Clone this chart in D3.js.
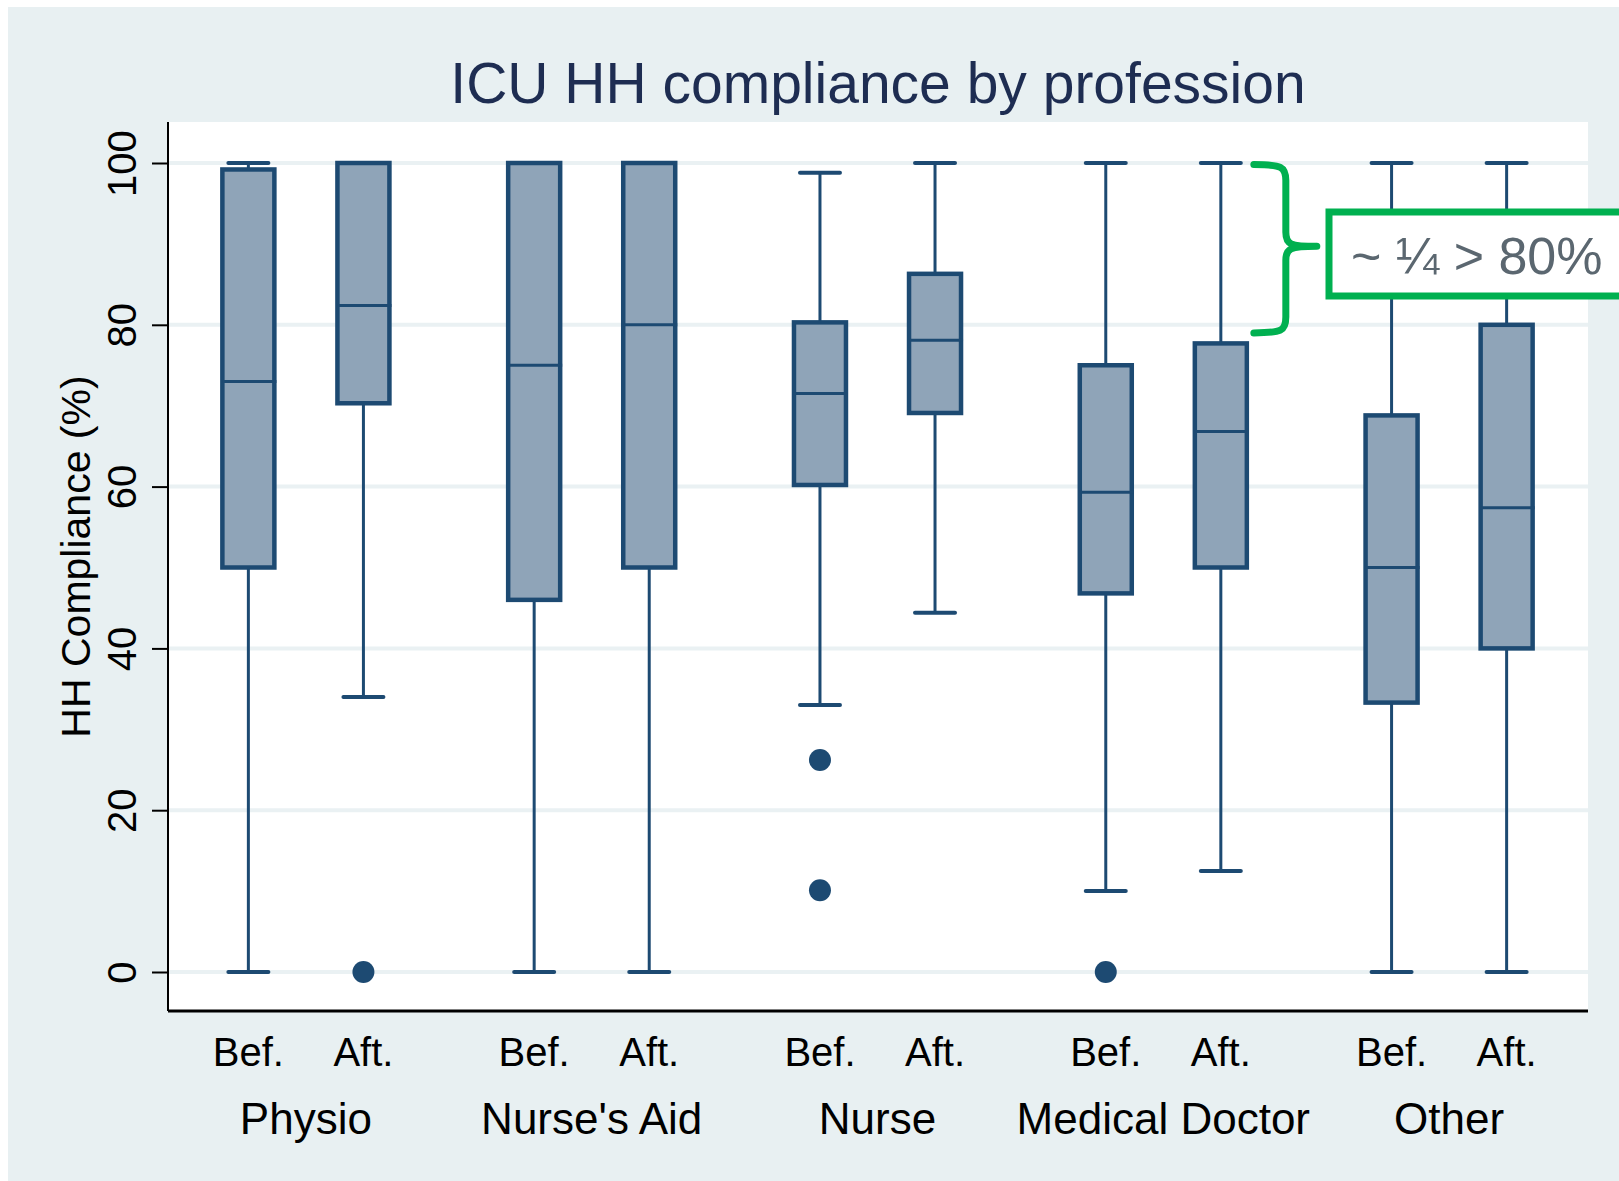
<!DOCTYPE html>
<html>
<head>
<meta charset="utf-8">
<script src="https://cdn.jsdelivr.net/npm/d3@7"></script>
<style>
  html, body { margin: 0; padding: 0; background: #fff; }
  svg { display: block; font-family: "Liberation Sans", Arial, sans-serif; }
</style>
</head>
<body>
<svg id="chart"></svg>
<script>
// data
var groups = ["Physio", "Nurse's Aid", "Nurse", "Medical Doctor", "Other"];
var phases = ["Bef.", "Aft."];
// one entry per box, in order Physio Bef, Physio Aft, Nurse's Aid Bef, ...
var loWhisker = [0, 34, 0, 0, 33, 44.4, 10, 12.5, 0, 0];
var q1        = [50, 70.3, 46, 50, 60.2, 69.1, 46.8, 50, 33.3, 40];
var medians   = [73, 82.4, 75, 80, 71.5, 78.1, 59.3, 66.8, 50, 57.4];
var q3        = [99.2, 100, 100, 100, 80.3, 86.3, 75, 77.7, 68.8, 80];
var hiWhisker = [100, 100, 100, 100, 98.8, 100, 100, 100, 100, 100];
var outlierGroup = ["Physio", "Nurse", "Nurse", "Medical Doctor"];
var outlierPhase = ["Aft.", "Bef.", "Bef.", "Bef."];
var outlierValue = [0, 26.2, 10.1, 0];
var yTicks = [0, 20, 40, 60, 80, 100];

var W = 1619, H = 1181;
var svg = d3.select("#chart").attr("width", W).attr("height", H);

var margin = {top: 122, right: 31, bottom: 170, left: 168};
var plotW = W - margin.left - margin.right,
    plotH = H - margin.top - margin.bottom;

// outer background
svg.append("rect").attr("x", 8).attr("y", 7).attr("width", W - 8).attr("height", H - 7)
    .attr("fill", "#e8f0f2");

var g = svg.append("g").attr("transform", "translate(" + margin.left + "," + margin.top + ")");

g.append("rect").attr("width", plotW).attr("height", plotH).attr("fill", "#fff");

var x0 = d3.scaleBand().domain(groups).range([-5, plotW + 4]).padding(0);
var x1 = d3.scalePoint().domain(phases).range([0, x0.bandwidth()]).padding(0.742);
var y = d3.scaleLinear().domain([0, 100]).range([850, 41]);

var boxColor = "#1d4a72", boxFill = "#8fa4b8";

// grid
g.selectAll("line.grid").data(yTicks).enter().append("line")
    .attr("class", "grid")
    .attr("x1", 0).attr("x2", plotW)
    .attr("y1", function(d) { return y(d); }).attr("y2", function(d) { return y(d); })
    .attr("stroke", "#eaf1f3").attr("stroke-width", 4);

// boxes
var boxes = [];
groups.forEach(function(gr, i) {
  phases.forEach(function(ph, j) {
    var k = i * 2 + j;
    boxes.push({group: gr, phase: ph, lo: loWhisker[k], q1: q1[k], med: medians[k], q3: q3[k], hi: hiWhisker[k]});
  });
});
function cx(d) { return x0(d.group) + x1(d.phase); }

var bw = 52, capW = 40;
var bg = g.selectAll("g.box").data(boxes).enter().append("g").attr("class", "box");

bg.append("line")
    .attr("x1", cx).attr("x2", cx)
    .attr("y1", function(d) { return y(d.lo); }).attr("y2", function(d) { return y(d.hi); })
    .attr("stroke", boxColor).attr("stroke-width", 3);

bg.selectAll("line.cap").data(function(d) { return [{d: d, v: d.lo}, {d: d, v: d.hi}]; })
  .enter().append("line").attr("class", "cap")
    .attr("x1", function(c) { return cx(c.d) - capW / 2; })
    .attr("x2", function(c) { return cx(c.d) + capW / 2; })
    .attr("y1", function(c) { return y(c.v); }).attr("y2", function(c) { return y(c.v); })
    .attr("stroke", boxColor).attr("stroke-width", 4).attr("stroke-linecap", "round");

bg.append("rect")
    .attr("x", function(d) { return cx(d) - bw / 2; })
    .attr("width", bw)
    .attr("y", function(d) { return y(d.q3); })
    .attr("height", function(d) { return y(d.q1) - y(d.q3); })
    .attr("fill", boxFill).attr("stroke", boxColor).attr("stroke-width", 4.5);

bg.append("line")
    .attr("x1", function(d) { return cx(d) - bw / 2; })
    .attr("x2", function(d) { return cx(d) + bw / 2 + 2; })
    .attr("y1", function(d) { return y(d.med); }).attr("y2", function(d) { return y(d.med); })
    .attr("stroke", boxColor).attr("stroke-width", 3);

// outliers
g.selectAll("circle.out").data(outlierValue).enter().append("circle")
    .attr("class", "out")
    .attr("cx", function(v, i) { return x0(outlierGroup[i]) + x1(outlierPhase[i]); })
    .attr("cy", function(v) { return y(v); })
    .attr("r", 11)
    .attr("fill", boxColor);

// y axis
var yAxis = g.append("g").call(d3.axisLeft(y).tickValues(yTicks).tickSize(16).tickPadding(14));
yAxis.select(".domain").remove();
yAxis.selectAll(".tick line").attr("stroke", "#000").attr("stroke-width", 2);
yAxis.selectAll(".tick text")
    .attr("font-size", 40).attr("fill", "#000")
    .attr("transform", "rotate(-90)")
    .attr("x", 0).attr("y", -32).attr("dy", 0)
    .attr("text-anchor", "middle");

g.append("line").attr("x1", 0).attr("x2", 0).attr("y1", 0).attr("y2", plotH)
    .attr("stroke", "#000").attr("stroke-width", 2);
g.append("line").attr("x1", 0).attr("x2", plotW).attr("y1", plotH).attr("y2", plotH)
    .attr("stroke", "#000").attr("stroke-width", 3);

// x labels
g.selectAll("text.phase").data(boxes).enter().append("text")
    .attr("class", "phase")
    .attr("x", cx).attr("y", 944)
    .attr("text-anchor", "middle").attr("font-size", 40).attr("fill", "#000")
    .text(function(d) { return d.phase; });

g.selectAll("text.group").data(groups).enter().append("text")
    .attr("class", "group")
    .attr("x", function(d) { return x0(d) + x0.bandwidth() / 2; })
    .attr("y", 1012)
    .attr("text-anchor", "middle").attr("font-size", 44).attr("fill", "#000")
    .text(function(d) { return d; });

// axis title
svg.append("text")
    .attr("transform", "translate(90," + (margin.top + plotH / 2 - 10) + ") rotate(-90)")
    .attr("text-anchor", "middle").attr("font-size", 41).attr("fill", "#000")
    .text("HH Compliance (%)");

// title
svg.append("text")
    .attr("x", margin.left + plotW / 2).attr("y", 103)
    .attr("text-anchor", "middle").attr("font-size", 57).attr("fill", "#1e2d52")
    .text("ICU HH compliance by profession");

// annotation: brace + box
var green = "#00b050";
var bx = x0("Medical Doctor") + x1("Aft.") + 33;
var yTop = y(99.8), yBot = y(79), yMid = y(89.7);
g.append("path")
    .attr("d", "M" + bx + "," + yTop +
      " C" + (bx + 28) + "," + yTop + " " + (bx + 32) + "," + (yTop + 2) + " " + (bx + 32) + "," + (yTop + 16) +
      " L" + (bx + 32) + "," + (yMid - 14) +
      " C" + (bx + 32) + "," + (yMid - 2) + " " + (bx + 36) + "," + yMid + " " + (bx + 63) + "," + yMid +
      " M" + (bx + 63) + "," + yMid +
      " C" + (bx + 36) + "," + yMid + " " + (bx + 32) + "," + (yMid + 2) + " " + (bx + 32) + "," + (yMid + 14) +
      " L" + (bx + 32) + "," + (yBot - 16) +
      " C" + (bx + 32) + "," + (yBot - 2) + " " + (bx + 28) + "," + yBot + " " + bx + "," + yBot)
    .attr("fill", "none").attr("stroke", green).attr("stroke-width", 7).attr("stroke-linecap", "round");

var ann = svg.append("g");
ann.append("rect")
    .attr("x", 1329).attr("y", 212).attr("width", 320).attr("height", 84)
    .attr("fill", "#fff").attr("stroke", green).attr("stroke-width", 7);
ann.append("text")
    .attr("x", 1351).attr("y", 274)
    .attr("font-size", 52).attr("fill", "#5b6770")
    .text("~ \u00bc > 80%");
</script>
</body>
</html>
